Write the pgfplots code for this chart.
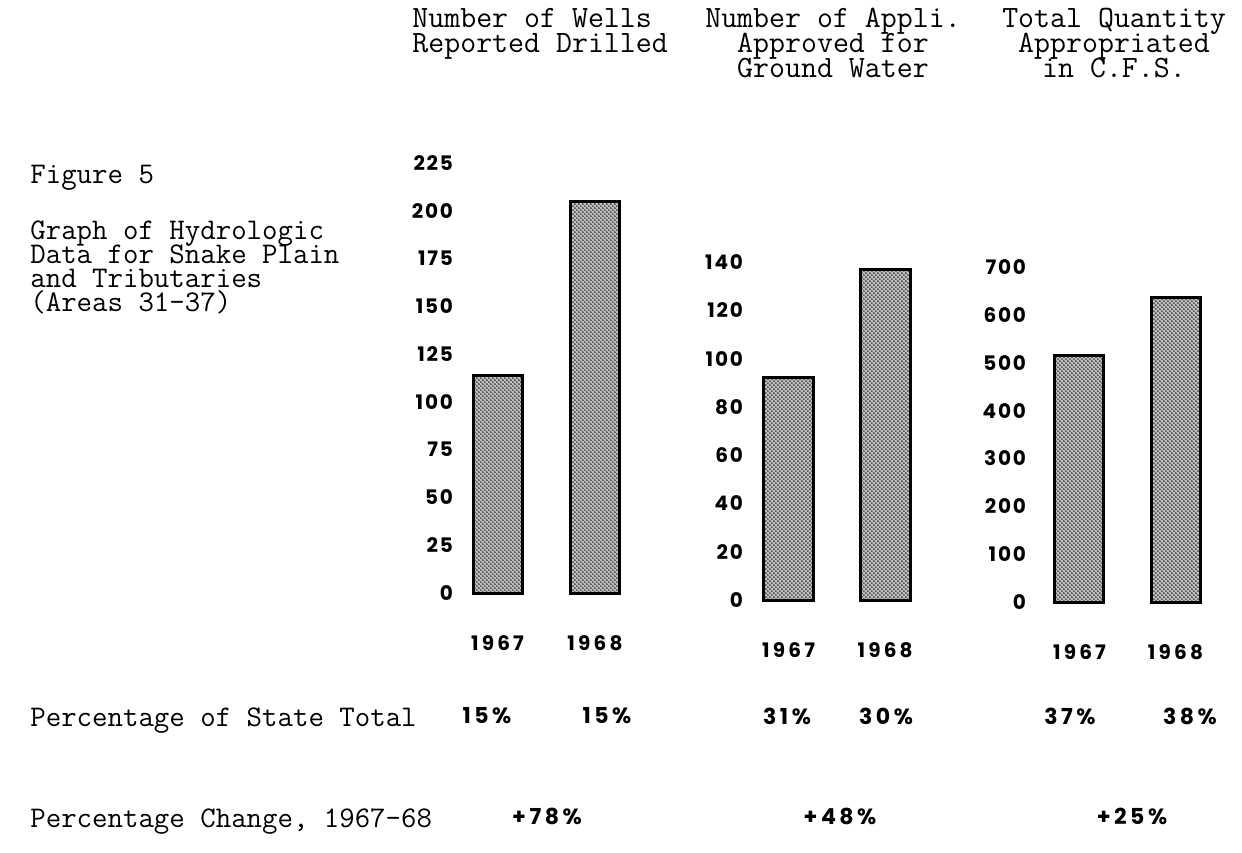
\documentclass[border=0pt]{standalone}
\usepackage{fontspec}
\usepackage{pgfplots}
\pgfplotsset{compat=1.18}
\usetikzlibrary{patterns.meta}
\setmonofont{Latin Modern Mono}
\newfontfamily\tickfont{Poppins}[LetterSpace=9]
\newfontfamily\tickfontw{Poppins}[LetterSpace=16]
\newcommand{\tw}{\ttfamily\fontsize{15}{17}\selectfont}
\newcommand{\hw}{\ttfamily\fontsize{15.5}{17}\selectfont}
\newcommand{\tf}{\tickfont\bfseries\fontsize{10}{11}\selectfont}
\newcommand{\xf}{\tickfontw\bfseries\fontsize{10}{11}\selectfont}
\newcommand{\pf}{\tickfontw\bfseries\fontsize{11}{12}\selectfont}
\tikzdeclarepattern{
  name=stipple,
  type=uncolored,
  bounding box={(0,0) and (2.2pt,2.2pt)},
  tile size={(2.2pt,2.2pt)},
  code={
    \pgfpathcircle{\pgfpoint{0.55pt}{0.55pt}}{0.45pt}
    \pgfpathcircle{\pgfpoint{1.65pt}{1.65pt}}{0.45pt}
    \pgfusepath{fill}
  }
}
\pgfplotsset{
  myax/.style={
    scale only axis, ybar,
    axis line style={draw=none}, tick style={draw=none},
    xtick={0,1}, xticklabels={1967,1968},
    yticklabel style={anchor=east, font=\tf},
    xticklabel style={yshift=-13.5pt, font=\xf},
    enlargelimits=false, clip=false,
    /pgf/number format/assume math mode=true,
  },
  barsty/.style={fill=black!25, postaction={pattern=stipple, pattern color=black}, draw=black, line width=1.5pt}
}
\tikzset{tt/.style={inner sep=0pt, font=\tw}, ht/.style={inner sep=0pt, font=\hw}}
\begin{document}
\begin{tikzpicture}
\path[use as bounding box] (0,0) rectangle (621pt,426pt);
% headers
\node[anchor=base west, ht] at (206pt,412pt) {Number of Wells};
\node[anchor=base west, ht] at (206pt,399.5pt) {Reported Drilled};
\node[anchor=base, ht] at (416.5pt,412pt) {Number of Appli.};
\node[anchor=base, ht] at (416.5pt,399.5pt) {Approved for};
\node[anchor=base, ht] at (416.5pt,387pt) {Ground Water};
\node[anchor=base, ht] at (557pt,412pt) {Total Quantity};
\node[anchor=base, ht] at (557pt,399.5pt) {Appropriated};
\node[anchor=base, ht] at (557pt,387pt) {in C.F.S.};
% left text
\node[anchor=base west, tt] at (15pt,334pt) {Figure 5};
\node[anchor=base west, tt] at (15pt,306pt) {Graph of Hydrologic};
\node[anchor=base west, tt] at (15pt,294pt) {Data for Snake Plain};
\node[anchor=base west, tt] at (15pt,282pt) {and Tributaries};
\node[anchor=base west, tt] at (15pt,270pt) {(Areas 31-37)};
\node[anchor=base west, tt] at (15pt,63pt) {Percentage of State Total};
\node[anchor=base west, tt] at (15pt,12.5pt) {Percentage Change, 1967-68};
% percentages
\node[font=\pf] at (243.5pt,68pt) {15\%};
\node[font=\pf] at (303.5pt,68pt) {15\%};
\node[font=\pf] at (393.5pt,68pt) {31\%};
\node[font=\pf] at (443pt,68pt) {30\%};
\node[font=\pf] at (535pt,68pt) {37\%};
\node[font=\pf] at (595pt,68pt) {38\%};
\node[font=\pf] at (273.5pt,18pt) {+78\%};
\node[font=\pf] at (420pt,18pt) {+48\%};
\node[font=\pf] at (566pt,18pt) {+25\%};
% chart 1
\begin{axis}[myax, at={(230pt,129.5pt)}, anchor=south west, width=87pt, height=215pt,
  xmin=-0.385, xmax=1.4, ymin=0, ymax=225, ytick={0,25,...,225}, bar width=24.5pt]
\addplot[barsty] coordinates {(0,114) (1,205)};
\end{axis}
% chart 2
\begin{axis}[myax, at={(375pt,126pt)}, anchor=south west, width=86.85pt, height=169pt,
  xmin=-0.4, xmax=1.4, ymin=0, ymax=140, ytick={0,20,...,140}, bar width=25pt]
\addplot[barsty] coordinates {(0,92) (1,137)};
\end{axis}
% chart 3
\begin{axis}[myax, at={(516.5pt,125pt)}, anchor=south west, width=90.45pt, height=167.5pt,
  xmin=-0.484, xmax=1.4, ymin=0, ymax=700, ytick={0,100,...,700}, bar width=24.5pt]
\addplot[barsty] coordinates {(0,516) (1,637)};
\end{axis}
\end{tikzpicture}
\end{document}
